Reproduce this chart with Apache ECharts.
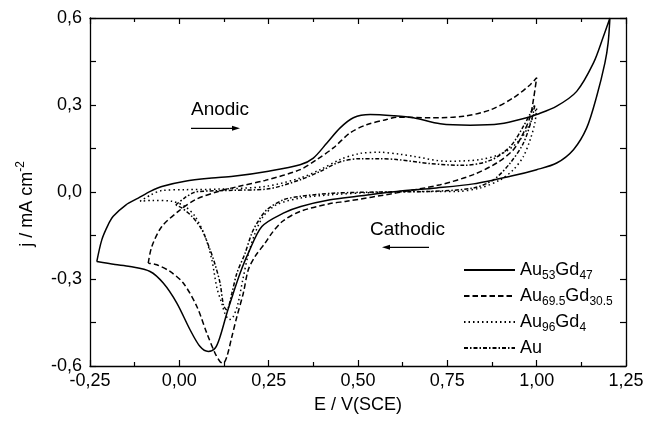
<!DOCTYPE html>
<html>
<head>
<meta charset="utf-8">
<script src="https://cdn.jsdelivr.net/npm/echarts@6/dist/echarts.min.js"></script>
<style>
  html, body { margin: 0; padding: 0; background: #fff; }
  #chart { width: 660px; height: 423px; }
</style>
</head>
<body>
<div id="chart"></div>
<script>
"use strict";

// voltammogramas ciclicos, pares [E, j]
const au53Gd47 = [
  [-0.231, -0.240], [-0.217, -0.165], [-0.200, -0.115], [-0.185, -0.084], [-0.150, -0.045],
  [-0.115, -0.021], [-0.080, 0.003], [-0.049, 0.019], [0.016, 0.037], [0.091, 0.048],
  [0.151, 0.054], [0.245, 0.071], [0.338, 0.094], [0.375, 0.117], [0.413, 0.169],
  [0.450, 0.221], [0.487, 0.256], [0.534, 0.267], [0.599, 0.263], [0.655, 0.256],
  [0.730, 0.235], [0.814, 0.230], [0.898, 0.235], [0.972, 0.256], [1.000, 0.267],
  [1.056, 0.296], [1.112, 0.347], [1.159, 0.445], [1.187, 0.537], [1.205, 0.600],
  [1.200, 0.514], [1.191, 0.445], [1.168, 0.330], [1.140, 0.221], [1.103, 0.146],
  [1.056, 0.100], [1.000, 0.077], [0.926, 0.054], [0.823, 0.028], [0.720, 0.014],
  [0.608, 0.002], [0.497, -0.015], [0.422, -0.027], [0.340, -0.050], [0.291, -0.073],
  [0.231, -0.119], [0.193, -0.211], [0.170, -0.280], [0.151, -0.349], [0.133, -0.418],
  [0.114, -0.499], [0.100, -0.539], [0.081, -0.550], [0.058, -0.533], [0.030, -0.475],
  [-0.007, -0.383], [-0.045, -0.314], [-0.082, -0.274], [-0.138, -0.257], [-0.180, -0.250],
  [-0.231, -0.240]
];

const au695Gd305 = [
  [-0.087, -0.245], [-0.077, -0.188], [-0.049, -0.119], [-0.003, -0.067], [0.044, -0.027],
  [0.109, 0.002], [0.165, 0.019], [0.240, 0.040], [0.338, 0.077], [0.385, 0.112],
  [0.431, 0.152], [0.478, 0.204], [0.524, 0.232], [0.580, 0.250], [0.608, 0.258],
  [0.702, 0.256], [0.795, 0.261], [0.870, 0.283], [0.935, 0.325], [0.982, 0.370],
  [1.000, 0.394],
  [0.991, 0.319], [0.982, 0.261], [0.963, 0.204], [0.935, 0.146], [0.888, 0.100],
  [0.823, 0.060], [0.730, 0.025], [0.608, -0.003], [0.468, -0.032], [0.422, -0.040],
  [0.338, -0.067], [0.290, -0.100], [0.260, -0.140], [0.240, -0.176], [0.212, -0.222],
  [0.193, -0.268], [0.179, -0.349], [0.161, -0.430], [0.147, -0.499], [0.133, -0.568],
  [0.123, -0.590], [0.114, -0.585], [0.100, -0.556], [0.077, -0.487], [0.049, -0.395],
  [0.011, -0.314], [-0.026, -0.274], [-0.063, -0.251], [-0.087, -0.245]
];

const au96Gd4 = [
  [-0.110, -0.032], [-0.080, -0.010], [-0.049, 0.005], [0.016, 0.008], [0.109, 0.010],
  [0.240, 0.019], [0.338, 0.048], [0.394, 0.077], [0.450, 0.112], [0.506, 0.133],
  [0.562, 0.137], [0.618, 0.130], [0.655, 0.123], [0.748, 0.106], [0.842, 0.112],
  [0.907, 0.135], [0.954, 0.181], [0.982, 0.238], [1.000, 0.290],
  [0.995, 0.238], [0.982, 0.181], [0.963, 0.123], [0.935, 0.077], [0.898, 0.042],
  [0.842, 0.014], [0.776, 0.002], [0.655, 0.002], [0.515, -0.003], [0.431, -0.009],
  [0.338, -0.021], [0.272, -0.044], [0.235, -0.084], [0.212, -0.142], [0.193, -0.215],
  [0.178, -0.300], [0.163, -0.390], [0.150, -0.432], [0.140, -0.440], [0.128, -0.420],
  [0.119, -0.385], [0.105, -0.330], [0.091, -0.234], [0.072, -0.153], [0.044, -0.084],
  [0.016, -0.050], [-0.021, -0.032], [-0.077, -0.029], [-0.110, -0.032]
];

const au = [
  [-0.010, -0.045], [0.015, -0.020], [0.040, -0.002], [0.058, 0.002], [0.151, 0.006],
  [0.245, 0.010], [0.338, 0.042], [0.394, 0.071], [0.450, 0.104], [0.506, 0.115],
  [0.562, 0.115], [0.608, 0.112], [0.702, 0.098], [0.795, 0.092], [0.870, 0.109],
  [0.926, 0.157], [0.963, 0.227], [0.995, 0.301],
  [0.986, 0.250], [0.963, 0.169], [0.926, 0.100], [0.879, 0.042], [0.823, 0.014],
  [0.702, 0.002], [0.562, 0.000], [0.431, -0.004], [0.338, -0.015], [0.291, -0.027],
  [0.245, -0.061], [0.221, -0.100], [0.203, -0.142], [0.184, -0.211], [0.161, -0.280],
  [0.147, -0.349], [0.133, -0.406], [0.124, -0.392], [0.114, -0.314], [0.100, -0.250],
  [0.086, -0.199], [0.063, -0.130], [0.035, -0.084], [0.007, -0.055], [-0.010, -0.045]
];

// nombres de la leyenda con subindices
const seriesNames = ['Au53Gd47', 'Au69.5Gd30.5', 'Au96Gd4', 'Au'];
const legendLabels = {
  'Au53Gd47': 'Au{sub|53}Gd{sub|47}',
  'Au69.5Gd30.5': 'Au{sub|69.5}Gd{sub|30.5}',
  'Au96Gd4': 'Au{sub|96}Gd{sub|4}',
  'Au': 'Au'
};

const FONT = 'Liberation Sans, Arial, Helvetica, sans-serif';
const BLACK = '#000';

var myChart = echarts.init(document.getElementById('chart'));

// ejes comunes (abajo/arriba e izquierda/derecha)
const axisCommon = {
  type: 'value',
  axisLine: { show: true, onZero: false, lineStyle: { color: BLACK, width: 1.3 } },
  axisTick: { show: true, inside: true, length: 6, lineStyle: { color: BLACK, width: 1.2 } },
  splitLine: { show: false }
};

var option = {
  backgroundColor: '#fff',
  animation: false,
  grid: { left: 90, right: 34, top: 18, bottom: 57, containLabel: false },

  xAxis: [
    Object.assign({}, axisCommon, {
      position: 'bottom',
      min: -0.25, max: 1.25, interval: 0.25,
      minorTick: { show: true, splitNumber: 2, length: 4, lineStyle: { color: BLACK, width: 1.2 } },
      axisLabel: {
        color: BLACK, fontSize: 18, fontFamily: FONT, margin: 6,
        formatter: v => v.toFixed(2).replace('.', ',')
      },
      name: 'E / V(SCE)',
      nameLocation: 'middle',
      nameGap: 30,
      nameTextStyle: { color: BLACK, fontSize: 18, fontFamily: FONT }
    }),
    Object.assign({}, axisCommon, {
      position: 'top',
      min: -0.25, max: 1.25, interval: 0.25,
      minorTick: { show: true, splitNumber: 2, length: 4, lineStyle: { color: BLACK, width: 1.2 } },
      axisLabel: { show: false }
    })
  ],

  yAxis: [
    Object.assign({}, axisCommon, {
      position: 'left',
      min: -0.6, max: 0.6, interval: 0.3,
      minorTick: { show: true, splitNumber: 2, length: 6, lineStyle: { color: BLACK, width: 1.2 } },
      axisLabel: {
        color: BLACK, fontSize: 18, fontFamily: FONT, margin: 8,
        formatter: v => v.toFixed(1).replace('.', ',')
      },
      name: 'j / mA cm{sup|-2}',
      nameLocation: 'middle',
      nameGap: 51,
      nameTextStyle: {
        color: BLACK, fontSize: 18, fontFamily: FONT, lineHeight: 24,
        padding: [0, 24, 0, 0],
        rich: { sup: { fontSize: 12, fontFamily: FONT, color: BLACK, lineHeight: 18, verticalAlign: 'top' } }
      }
    }),
    Object.assign({}, axisCommon, {
      position: 'right',
      min: -0.6, max: 0.6, interval: 0.3,
      minorTick: { show: true, splitNumber: 2, length: 6, lineStyle: { color: BLACK, width: 1.2 } },
      axisLabel: { show: false }
    })
  ],

  legend: {
    data: seriesNames,
    orient: 'vertical',
    left: 463,
    top: 258,
    itemWidth: 51,
    itemHeight: 14,
    itemGap: 2,
    padding: 0,
    itemStyle: { opacity: 0 },
    formatter: name => legendLabels[name],
    textStyle: {
      color: BLACK, fontSize: 18, fontFamily: FONT, lineHeight: 24,
      rich: { sub: { fontSize: 12, fontFamily: FONT, color: BLACK, lineHeight: 6, verticalAlign: 'bottom' } }
    }
  },

  series: [
    {
      name: 'Au53Gd47', type: 'line', data: au53Gd47, symbol: 'none', smooth: 0.3,
      lineStyle: { color: BLACK, width: 1.5, type: 'solid' }, itemStyle: { color: BLACK }
    },
    {
      name: 'Au69.5Gd30.5', type: 'line', data: au695Gd305, symbol: 'none', smooth: 0.3,
      lineStyle: { color: BLACK, width: 1.5, type: [5.5, 3] }, itemStyle: { color: BLACK }
    },
    {
      name: 'Au96Gd4', type: 'line', data: au96Gd4, symbol: 'none', smooth: 0.3,
      lineStyle: { color: BLACK, width: 1.5, type: [1.5, 3] }, itemStyle: { color: BLACK }
    },
    {
      name: 'Au', type: 'line', data: au, symbol: 'none', smooth: 0.3,
      lineStyle: { color: BLACK, width: 1.5, type: [4, 2, 1.5, 2] }, itemStyle: { color: BLACK }
    }
  ],

  // anotaciones de sentido de barrido
  graphic: [
    { type: 'text', x: 191, y: 110, style: { text: 'Anodic', fill: BLACK, fontSize: 19, fontFamily: FONT, align: 'left', verticalAlign: 'middle' } },
    { type: 'line', shape: { x1: 191, y1: 128.3, x2: 234, y2: 128.3 }, style: { stroke: BLACK, lineWidth: 1.3 } },
    { type: 'polygon', shape: { points: [[240, 128.3], [232, 125.8], [232, 130.8]] }, style: { fill: BLACK } },
    { type: 'text', x: 370, y: 229.3, style: { text: 'Cathodic', fill: BLACK, fontSize: 19, fontFamily: FONT, align: 'left', verticalAlign: 'middle' } },
    { type: 'line', shape: { x1: 429, y1: 247.3, x2: 388, y2: 247.3 }, style: { stroke: BLACK, lineWidth: 1.3 } },
    { type: 'polygon', shape: { points: [[382, 247.3], [390, 244.8], [390, 249.8]] }, style: { fill: BLACK } }
  ]
};

myChart.setOption(option);
</script>
</body>
</html>
